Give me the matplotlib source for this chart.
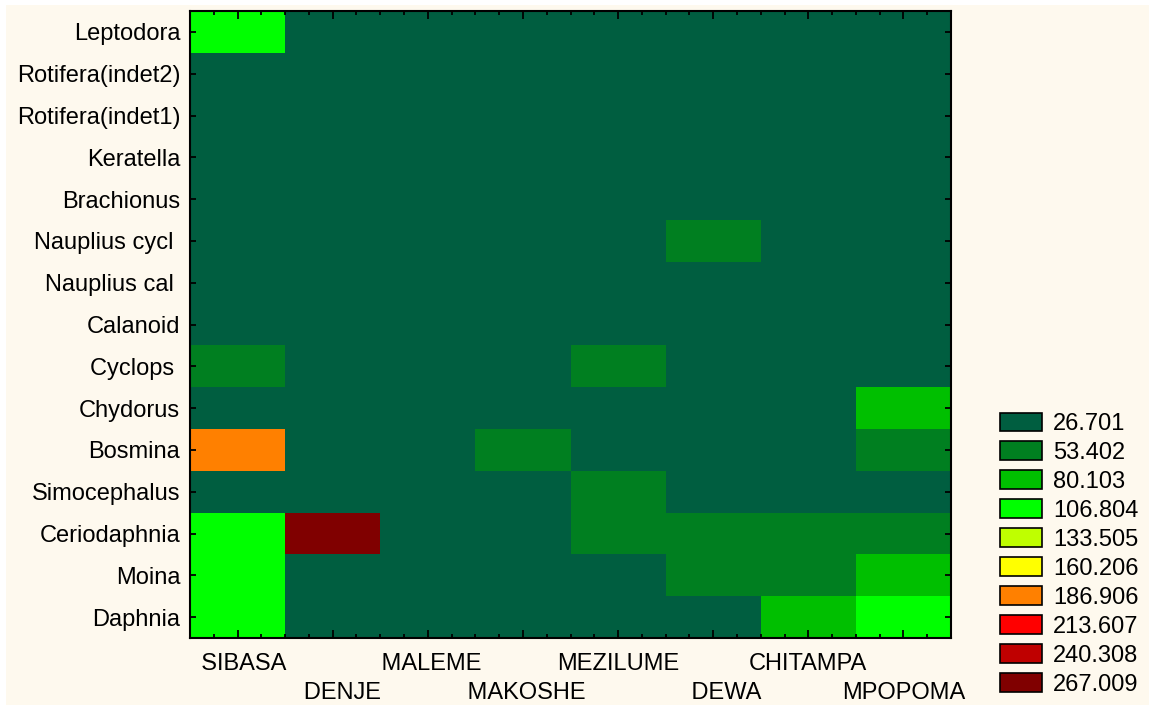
import matplotlib.pyplot as plt
import numpy as np
from matplotlib.colors import ListedColormap, BoundaryNorm
from matplotlib.patches import Patch, Rectangle

plt.rcParams['font.family'] = ['Liberation Sans', 'DejaVu Sans']

# Станции (столбцы) и таксоны (строки, сверху вниз)
stations = ['  SIBASA', '   DENJE', ' MALEME', ' MAKOSHE', 'MEZILUME', '    DEWA', 'CHITAMPA', 'MPOPOMA']
taxa = ['Leptodora', 'Rotifera(indet2)', 'Rotifera(indet1)', 'Keratella', 'Brachionus',
        'Nauplius cycl ', 'Nauplius cal ', 'Calanoid', 'Cyclops ', 'Chydorus',
        'Bosmina', 'Simocephalus', 'Ceriodaphnia', 'Moina', 'Daphnia']

# Уровни шкалы
levels = [26.701, 53.402, 80.103, 106.804, 133.505, 160.206, 186.906, 213.607, 240.308, 267.009]
level_colors = ['#005E40', '#007F20', '#00BF00', '#00FF00', '#BFFF00',
                '#FFFF00', '#FF8000', '#FF0000', '#BF0000', '#800000']

# Численность по станциям
leptodora = [95, 2, 0, 1, 0, 3, 0, 1]
rotifera2 = [3, 0, 1, 0, 2, 0, 1, 4]
rotifera1 = [5, 2, 0, 1, 0, 2, 3, 0]
keratella = [8, 4, 2, 3, 6, 5, 2, 1]
brachionus = [6, 3, 1, 2, 4, 9, 5, 2]
nauplius_cycl = [12, 6, 4, 5, 10, 35, 14, 8]
nauplius_cal = [10, 5, 3, 4, 9, 18, 12, 7]
calanoid = [7, 4, 2, 3, 6, 11, 9, 5]
cyclops = [42, 9, 6, 8, 38, 20, 15, 12]
chydorus = [14, 3, 2, 6, 10, 8, 11, 72]
bosmina = [178, 12, 9, 44, 22, 18, 16, 41]
simocephalus = [10, 4, 3, 8, 36, 12, 9, 14]
ceriodaphnia = [98, 267.009, 15, 20, 45, 48, 50, 47]
moina = [102, 8, 5, 12, 20, 39, 42, 68]
daphnia = [96, 10, 6, 11, 18, 24, 74, 100]

data = np.array([leptodora, rotifera2, rotifera1, keratella, brachionus,
                 nauplius_cycl, nauplius_cal, calanoid, cyclops, chydorus,
                 bosmina, simocephalus, ceriodaphnia, moina, daphnia])

cmap = ListedColormap(level_colors)
norm = BoundaryNorm([0] + levels, cmap.N)

bg = '#FEF9EE'
fig = plt.figure(figsize=(11.49, 7.08), dpi=100, facecolor='white')
fig.patches.append(Rectangle((6 / 1149, 3 / 708), 1, 700 / 708,
                             transform=fig.transFigure, facecolor=bg,
                             edgecolor='none', zorder=-10))
ax = fig.add_axes([190 / 1149, 1 - 638 / 708, 761 / 1149, 627 / 708])

ax.pcolormesh(np.arange(len(stations) + 1), np.arange(len(taxa) + 1), data,
              cmap=cmap, norm=norm)
ax.set_xlim(0, len(stations))
ax.set_ylim(len(taxa), 0)

ax.set_xticks(np.arange(len(stations)) + 0.5)
ax.set_xticklabels(stations)
ax.set_xticks(np.arange(0, len(stations), 0.25), minor=True)
ax.set_yticks(np.arange(len(taxa)) + 0.5)
ax.set_yticklabels(taxa)

ax.tick_params(axis='both', which='both', direction='in', top=True, right=True,
               labelsize=17, colors='black', width=1.3)
ax.tick_params(axis='x', which='major', length=6)
ax.tick_params(axis='x', which='minor', length=3)
ax.tick_params(axis='y', which='major', length=4, pad=7)
for sp in ax.spines.values():
    sp.set_linewidth(1.5)

# Подписи станций в два ряда
for i, t in enumerate(ax.xaxis.get_major_ticks()):
    t.set_pad(11 if i % 2 == 0 else 32)

handles = [Patch(facecolor=c, edgecolor='black', linewidth=1.2) for c in level_colors]
fig.legend(handles, [f'{v:.3f}' for v in levels], loc='upper left',
           bbox_to_anchor=(983 / 1149, 1 - 396 / 708), frameon=False,
           fontsize=17, handlelength=1.78, handleheight=0.85,
           labelspacing=0.27, handletextpad=0.5, borderpad=0.2)

fig.savefig('out.png', dpi=100, facecolor=fig.get_facecolor())
